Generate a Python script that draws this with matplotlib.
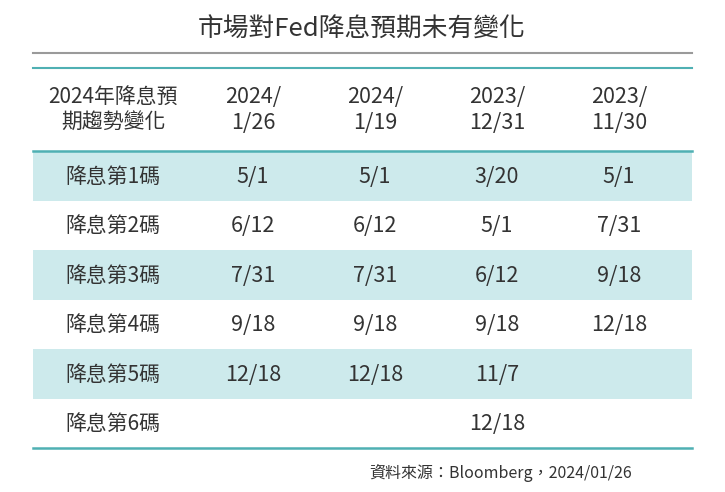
import matplotlib.pyplot as plt

plt.rcParams['font.family'] = ['Noto Sans CJK TC', 'DejaVu Sans']

title = "市場對Fed降息預期未有變化"
corner = "2024年降息預\n期趨勢變化"
dates = ["2024/\n1/26", "2024/\n1/19", "2023/\n12/31", "2023/\n11/30"]
rows = ["降息第1碼", "降息第2碼", "降息第3碼", "降息第4碼", "降息第5碼", "降息第6碼"]
cuts = [
    ["5/1", "5/1", "3/20", "5/1"],
    ["6/12", "6/12", "5/1", "7/31"],
    ["7/31", "7/31", "6/12", "9/18"],
    ["9/18", "9/18", "9/18", "12/18"],
    ["12/18", "12/18", "11/7", ""],
    ["", "", "12/18", ""],
]
source = "資料來源：Bloomberg，2024/01/26"

teal = "#4fb0b3"
band = "#cdeaec"
txt = "#333333"

fig = plt.figure(figsize=(7.25, 4.92), dpi=100)
ax = fig.add_axes([0, 0, 1, 1])
ax.set_xlim(0, 725)
ax.set_ylim(492, 0)
ax.axis("off")

x0, x1 = 33, 692
col_x = [113, 253, 375, 497, 619]
top = 151
row_h = 49.5

ax.text(362, 30, title, ha="center", va="center", fontsize=18.5,
        fontweight="medium", color=txt)
ax.plot([x0, x1], [53, 53], color="#9a9a9a", lw=1.5)
ax.plot([x0, x1], [68, 68], color=teal, lw=1.5)

ax.text(col_x[0], 110, corner, ha="center", va="center", fontsize=15,
        fontweight="medium", color=txt, linespacing=1.2)
for x, d in zip(col_x[1:], dates):
    ax.text(x, 110, d, ha="center", va="center", fontsize=15.5,
            fontweight="medium", color=txt, linespacing=1.2)

for i, (name, vals) in enumerate(zip(rows, cuts)):
    y = top + i * row_h
    if i % 2 == 0:
        ax.fill_between([x0, x1], y, y + row_h, color=band, lw=0)
    yc = y + row_h / 2 + 1
    ax.text(col_x[0], yc, name, ha="center", va="center", fontsize=15, color=txt)
    for x, v in zip(col_x[1:], vals):
        ax.text(x, yc, v, ha="center", va="center", fontsize=15.5, color=txt)

ax.plot([x0, x1], [top, top], color=teal, lw=1.8)
bottom = top + len(rows) * row_h
ax.plot([x0, x1], [bottom, bottom], color=teal, lw=1.8)

ax.text(632, 473, source, ha="right", va="center", fontsize=11.5, color=txt)

fig.savefig("out.png", dpi=100)
